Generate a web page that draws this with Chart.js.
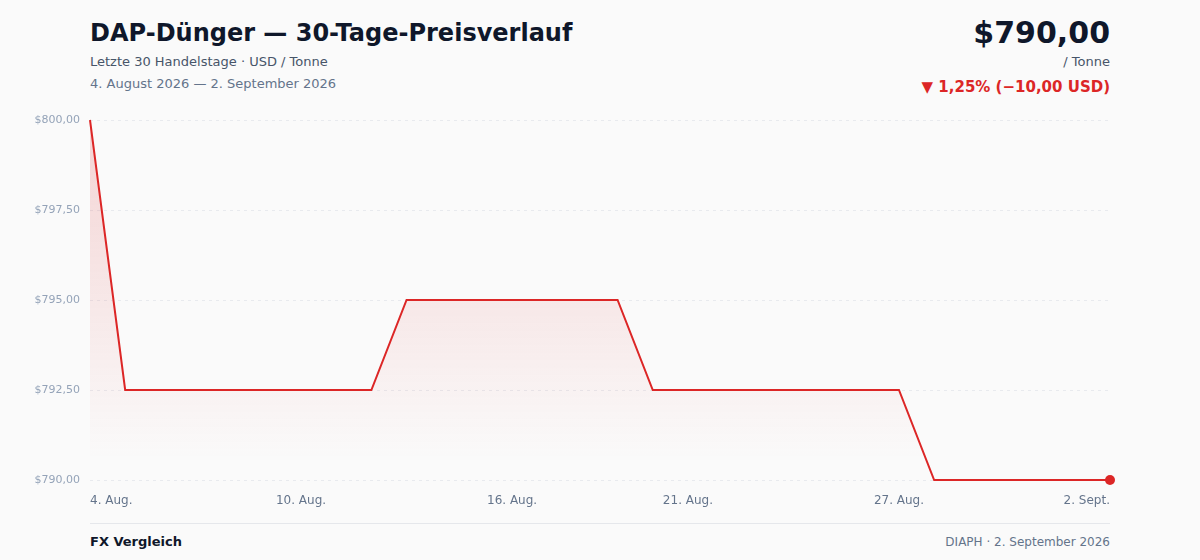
<!DOCTYPE html>
<html lang="de">
<head>
<meta charset="utf-8">
<script src="https://cdn.jsdelivr.net/npm/chart.js@4"></script>
<style>
  html, body { margin: 0; padding: 0; }
  body {
    width: 1200px; height: 560px; overflow: hidden;
    background: #fafafa;
    font-family: "DejaVu Sans", sans-serif;
    position: relative;
  }
  .abs { position: absolute; white-space: nowrap; }
  #title { left: 90px; top: 19px; font-size: 24px; font-weight: bold; color: #0f172a; }
  #sub { left: 90px; top: 54px; font-size: 13px; color: #475569; }
  #range { left: 90px; top: 76px; font-size: 13px; color: #64748b; }
  #price { right: 90px; top: 15px; font-size: 30px; font-weight: bold; color: #0f172a; }
  #unit { right: 90px; top: 54px; font-size: 13px; color: #475569; }
  #change { right: 90px; top: 78px; font-size: 15px; font-weight: bold; color: #dc2626; }
  #chartBox { left: 0; top: 100px; width: 1200px; height: 410px; }
  #rule { left: 90px; top: 523px; width: 1020px; height: 1px; background: #e5e7eb; }
  #brand { left: 90px; top: 534px; font-size: 13px; font-weight: bold; color: #0f172a; }
  #source { right: 90px; top: 535px; font-size: 12px; color: #64748b; }
</style>
</head>
<body>
<div class="abs" id="title">DAP-Dünger — 30-Tage-Preisverlauf</div>
<div class="abs" id="sub">Letzte 30 Handelstage · USD / Tonne</div>
<div class="abs" id="range">4. August 2026 — 2. September 2026</div>
<div class="abs" id="price">$790,00</div>
<div class="abs" id="unit">/ Tonne</div>
<div class="abs" id="change">▼ 1,25% (−10,00 USD)</div>
<div class="abs" id="chartBox"><canvas id="priceChart"></canvas></div>
<div class="abs" id="rule"></div>
<div class="abs" id="brand">FX Vergleich</div>
<div class="abs" id="source">DIAPH · 2. September 2026</div>

<script>
// DATA
const dayLabels = [
  '4. Aug.', '5. Aug.', '6. Aug.', '7. Aug.', '8. Aug.', '9. Aug.', '10. Aug.',
  '11. Aug.', '12. Aug.', '13. Aug.', '14. Aug.', '15. Aug.', '16. Aug.', '17. Aug.',
  '18. Aug.', '19. Aug.', '20. Aug.', '21. Aug.', '22. Aug.', '23. Aug.', '24. Aug.',
  '25. Aug.', '26. Aug.', '27. Aug.', '28. Aug.', '29. Aug.', '30. Aug.', '31. Aug.',
  '1. Sept.', '2. Sept.'
];
const prices = [
  800.00,
  792.50, 792.50, 792.50, 792.50, 792.50, 792.50, 792.50, 792.50,
  795.00, 795.00, 795.00, 795.00, 795.00, 795.00, 795.00,
  792.50, 792.50, 792.50, 792.50, 792.50, 792.50, 792.50, 792.50,
  790.00, 790.00, 790.00, 790.00, 790.00, 790.00
];
const shownTickIndexes = [0, 6, 12, 17, 23, 29];
const yMin = 790;
const yMax = 800;
const yStep = 2.5;

const RED = '#dc2626';

function formatUsd(v) {
  return '$' + Number(v).toFixed(2).replace('.', ',');
}

function renderChart() {
  const ctx = document.getElementById('priceChart').getContext('2d');
  const lastIdx = prices.length - 1;

  // soft red fill under the line
  const fillGradient = ctx.createLinearGradient(0, 20, 0, 360);
  fillGradient.addColorStop(0, 'rgba(220, 38, 38, 0.18)');
  fillGradient.addColorStop(1, 'rgba(220, 38, 38, 0)');

  new Chart(ctx, {
    type: 'line',
    data: {
      labels: dayLabels,
      datasets: [{
        data: prices,
        borderColor: RED,
        borderWidth: 2,
        tension: 0,
        fill: 'origin',
        backgroundColor: fillGradient,
        pointRadius: c => (c.dataIndex === lastIdx ? 5 : 0),
        pointBackgroundColor: RED,
        pointBorderWidth: 0,
        clip: false
      }]
    },
    options: {
      responsive: true,
      maintainAspectRatio: false,
      animation: false,
      layout: { padding: { left: 0, right: 90, top: 20, bottom: 0 } },
      plugins: { legend: { display: false }, tooltip: { enabled: false } },
      scales: {
        x: {
          grid: { display: false, drawTicks: false },
          border: { display: false },
          afterFit: s => { s.height = 30; },
          ticks: {
            autoSkip: false,
            maxRotation: 0,
            align: 'inner',
            padding: 14,
            color: '#64748b',
            font: { family: 'DejaVu Sans', size: 12 },
            callback: (val, i) => (shownTickIndexes.includes(i) ? dayLabels[i] : '')
          }
        },
        y: {
          min: yMin,
          max: yMax,
          afterFit: s => { s.width = 90; },
          grid: { color: '#e8eaee', drawTicks: false, lineWidth: 1 },
          border: { display: false, dash: [3, 4] },
          ticks: {
            stepSize: yStep,
            padding: 10,
            color: '#94a3b8',
            font: { family: 'DejaVu Sans', size: 11 },
            callback: v => formatUsd(v)
          }
        }
      }
    }
  });
}

window.onload = renderChart;
</script>
</body>
</html>
